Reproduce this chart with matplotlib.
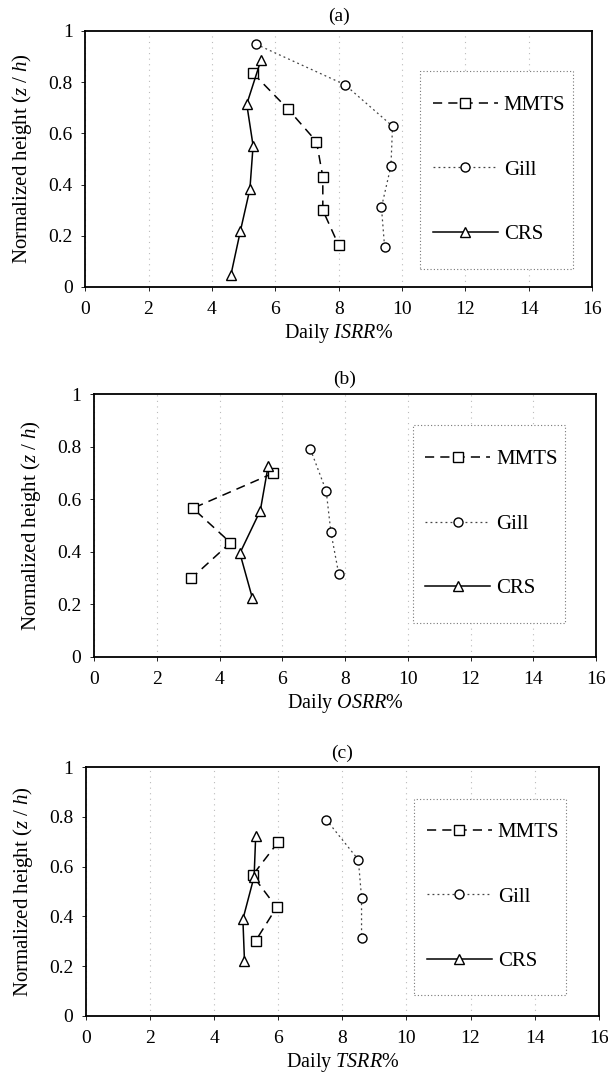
import matplotlib
matplotlib.use("Agg")
import matplotlib.pyplot as plt
from matplotlib.patches import Rectangle

plt.rcParams["font.family"] = ["Liberation Serif", "DejaVu Serif"]
plt.rcParams["mathtext.fontset"] = "custom"
plt.rcParams["mathtext.rm"] = "Liberation Serif"
plt.rcParams["mathtext.it"] = "Liberation Serif:italic"

# panel (a) ISRR
a_mmts_x = [5.3, 6.4, 7.3, 7.5, 7.5, 8.0]
a_mmts_y = [0.835, 0.695, 0.568, 0.43, 0.30, 0.163]
a_gill_x = [5.4, 8.2, 9.7, 9.65, 9.35, 9.45]
a_gill_y = [0.948, 0.79, 0.628, 0.473, 0.311, 0.156]
a_crs_x = [5.55, 5.1, 5.3, 5.2, 4.9, 4.6]
a_crs_y = [0.887, 0.714, 0.552, 0.383, 0.219, 0.047]

# panel (b) OSRR
b_mmts_x = [5.7, 3.15, 4.35, 3.1]
b_mmts_y = [0.698, 0.565, 0.434, 0.298]
b_gill_x = [6.9, 7.4, 7.55, 7.8]
b_gill_y = [0.789, 0.631, 0.474, 0.315]
b_crs_x = [5.55, 5.3, 4.65, 5.05]
b_crs_y = [0.726, 0.556, 0.394, 0.222]

# panel (c) TSRR
c_mmts_x = [6.0, 5.2, 5.95, 5.3]
c_mmts_y = [0.699, 0.565, 0.436, 0.302]
c_gill_x = [7.5, 8.5, 8.6, 8.6]
c_gill_y = [0.789, 0.628, 0.475, 0.312]
c_crs_x = [5.3, 5.25, 4.9, 4.95]
c_crs_y = [0.725, 0.56, 0.388, 0.22]

xticks = [0, 2, 4, 6, 8, 10, 12, 14, 16]
yticks = [0, 0.2, 0.4, 0.6, 0.8, 1]
ytick_labels = ["0", "0.2", "0.4", "0.6", "0.8", "1"]

fig = plt.figure(figsize=(6.08, 10.87), dpi=100)

panels = [
    ("(a)", "ISRR", [0.140, 0.736, 0.834, 0.2355],
     (a_mmts_x, a_mmts_y, a_gill_x, a_gill_y, a_crs_x, a_crs_y),
     (0.661, 0.07, 0.302, 0.774)),
    ("(b)", "OSRR", [0.1546, 0.3959, 0.8257, 0.2416],
     (b_mmts_x, b_mmts_y, b_gill_x, b_gill_y, b_crs_x, b_crs_y),
     (0.635, 0.128, 0.303, 0.754)),
    ("(c)", "TSRR", [0.141, 0.0656, 0.844, 0.2285],
     (c_mmts_x, c_mmts_y, c_gill_x, c_gill_y, c_crs_x, c_crs_y),
     (0.64, 0.083, 0.296, 0.791)),
]

for title, name, rect, d, legbox in panels:
    ax = fig.add_axes(rect)
    mx, my, gx, gy, cx, cy = d
    ax.plot(mx, my, color="black", lw=1.1, ls=(0, (6, 4)), marker="s",
            ms=7.5, mfc="white", mec="black", mew=1.0, label="MMTS")
    ax.plot(gx, gy, color="#444444", lw=0.9, ls=(0, (1.5, 2.5)), marker="o",
            ms=6.5, mfc="white", mec="black", mew=1.0, label="Gill")
    ax.plot(cx, cy, color="black", lw=1.1, ls="-", marker="^",
            ms=7.5, mfc="white", mec="black", mew=1.0, label="CRS")
    ax.set_xlim(0, 16)
    ax.set_ylim(0, 1)
    ax.set_xticks(xticks)
    ax.set_yticks(yticks)
    ax.set_yticklabels(ytick_labels)
    ax.tick_params(labelsize=14, length=3, width=0.6, direction="out")
    ax.tick_params(axis="x", pad=7)
    ax.tick_params(axis="y", pad=6)
    ax.xaxis.grid(True, color="#bbbbbb", ls=(0, (1, 4)), lw=0.8)
    for s in ax.spines.values():
        s.set_linewidth(1.3)
    ax.set_title(title, fontsize=14, pad=7)
    ax.set_xlabel(r"Daily $" + name + r"\%$", fontsize=14.5, labelpad=3)
    ax.set_ylabel(r"Normalized height ($z$ / $h$)", fontsize=15, labelpad=10)

    # legend box drawn by hand, entries placed inside it
    x0, y0, w, h = legbox
    box = Rectangle((x0, y0), w, h, transform=ax.transAxes, facecolor="white",
                    edgecolor="#777777", lw=0.8, ls=(0, (1, 2)), zorder=4)
    ax.add_patch(box)
    leg = ax.legend(loc="center left", bbox_to_anchor=(x0 + 0.025, y0 + h / 2),
                    frameon=False, borderaxespad=0, borderpad=0, fontsize=15,
                    handlelength=3.1, handletextpad=0.3, labelspacing=2.15,
                    numpoints=1)
    leg.set_zorder(5)

fig.savefig("out.png", dpi=100)
